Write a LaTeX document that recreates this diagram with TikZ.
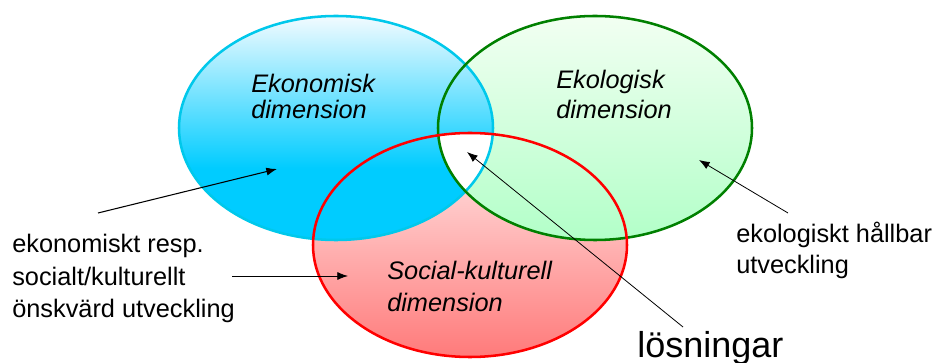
\documentclass[tikz,border=0pt]{standalone}
\usepackage{fontspec}
\setmainfont{Liberation Sans}
\usetikzlibrary{arrows.meta}

\definecolor{ekoCyan}{RGB}{0,204,255}
\definecolor{ekoTop}{RGB}{242,251,255}
\definecolor{ekoLine}{RGB}{0,200,235}
\definecolor{ekolLow}{RGB}{178,255,200}
\definecolor{ekolTop}{RGB}{242,255,242}
\definecolor{ekolGreen}{RGB}{0,128,0}
\definecolor{socLow}{RGB}{255,122,122}
\definecolor{socTop}{RGB}{255,235,235}
\definecolor{socRed}{RGB}{255,0,0}

\pgfdeclareverticalshading{ekoShade}{100bp}{color(0bp)=(ekoCyan); color(41bp)=(ekoCyan); color(75bp)=(ekoTop); color(100bp)=(ekoTop)}
\pgfdeclareverticalshading{ekolShade}{100bp}{color(0bp)=(ekolLow); color(25bp)=(ekolLow); color(75bp)=(ekolTop); color(100bp)=(ekolTop)}
\pgfdeclareverticalshading{socShade}{100bp}{color(0bp)=(socLow); color(25bp)=(socLow); color(75bp)=(socTop); color(100bp)=(socTop)}

\newlength\ringRx
\newlength\ringRy
\setlength\ringRx{117.75pt}
\setlength\ringRy{84pt}

\begin{document}
\begin{tikzpicture}[x=0.75pt,y=-0.75pt,
    dimlabel/.style={font=\itshape\fontsize{19}{22.5}\selectfont,align=left,anchor=base west,inner sep=0pt},
    notetext/.style={font=\fontsize{19}{24}\selectfont,align=left,anchor=base west,inner sep=0pt},
    pointer/.style={-{Latex[length=8pt,width=6pt]},line width=0.8pt},
    rim/.style={line width=1.9pt}]
    \useasboundingbox (0,0) rectangle (935,363);

    % ring centres
    \coordinate (ekoC) at (336,128);
    \coordinate (ekolC) at (595,128);
    \coordinate (socC) at (470,245);

    % ring fills
    \shade[shading=socShade] (socC) ellipse [x radius=\ringRx,y radius=\ringRy];
    \shade[shading=ekolShade] (ekolC) ellipse [x radius=\ringRx,y radius=\ringRy];
    \shade[shading=ekoShade] (ekoC) ellipse [x radius=\ringRx,y radius=\ringRy];

    % blank centre
    \begin{scope}
      \clip (ekoC) ellipse [x radius=\ringRx,y radius=\ringRy];
      \clip (ekolC) ellipse [x radius=\ringRx,y radius=\ringRy];
      \fill[white] (socC) ellipse [x radius=\ringRx,y radius=\ringRy];
    \end{scope}

    % ring borders
    \foreach \c/\col in {ekoC/ekoLine,ekolC/ekolGreen,socC/socRed} {
      \draw[rim,\col] (\c) ellipse [x radius=\ringRx,y radius=\ringRy];
    }

    % ring labels (base = last line)
    \node[dimlabel,font=\itshape\fontsize{19}{20}\selectfont] (ekoTxt) at (251,119) {Ekonomisk\\dimension};
    \node[dimlabel] (ekolTxt) at (556,119) {Ekologisk\\dimension};
    \node[dimlabel,font=\itshape\fontsize{19}{24}\selectfont] (socTxt) at (387,311) {Social-kulturell\\dimension};

    % side texts
    \node[notetext] (ekoSoc) at (12,317) {ekonomiskt resp.\\socialt/kulturellt\\önskvärd utveckling};
    \node[notetext,font=\fontsize{19}{23.25}\selectfont] (ekolDev) at (736,274) {ekologiskt hållbar\\utveckling};
    \node[notetext,font=\fontsize{27}{30}\selectfont] (losn) at (637,357) {lösningar};

    % arrow ends
    \coordinate (ekoTail) at (98,213);
    \coordinate (ekoHead) at (277,169);
    \coordinate (socTail) at (232,276);
    \coordinate (socHead) at (348,276);
    \coordinate (losnTail) at (683,327);
    \coordinate (losnHead) at (467,152);
    \coordinate (ekolTail) at (788,213);
    \coordinate (ekolHead) at (699,160);

    % arrows
    \draw[pointer] (ekoTail) -- (ekoHead);
    \draw[pointer,line width=0.6pt] (socTail) -- (socHead);
    \draw[pointer,line width=0.6pt] (losnTail) -- (losnHead);
    \draw[pointer,line width=0.6pt] (ekolTail) -- (ekolHead);
  \end{tikzpicture}
\end{document}
